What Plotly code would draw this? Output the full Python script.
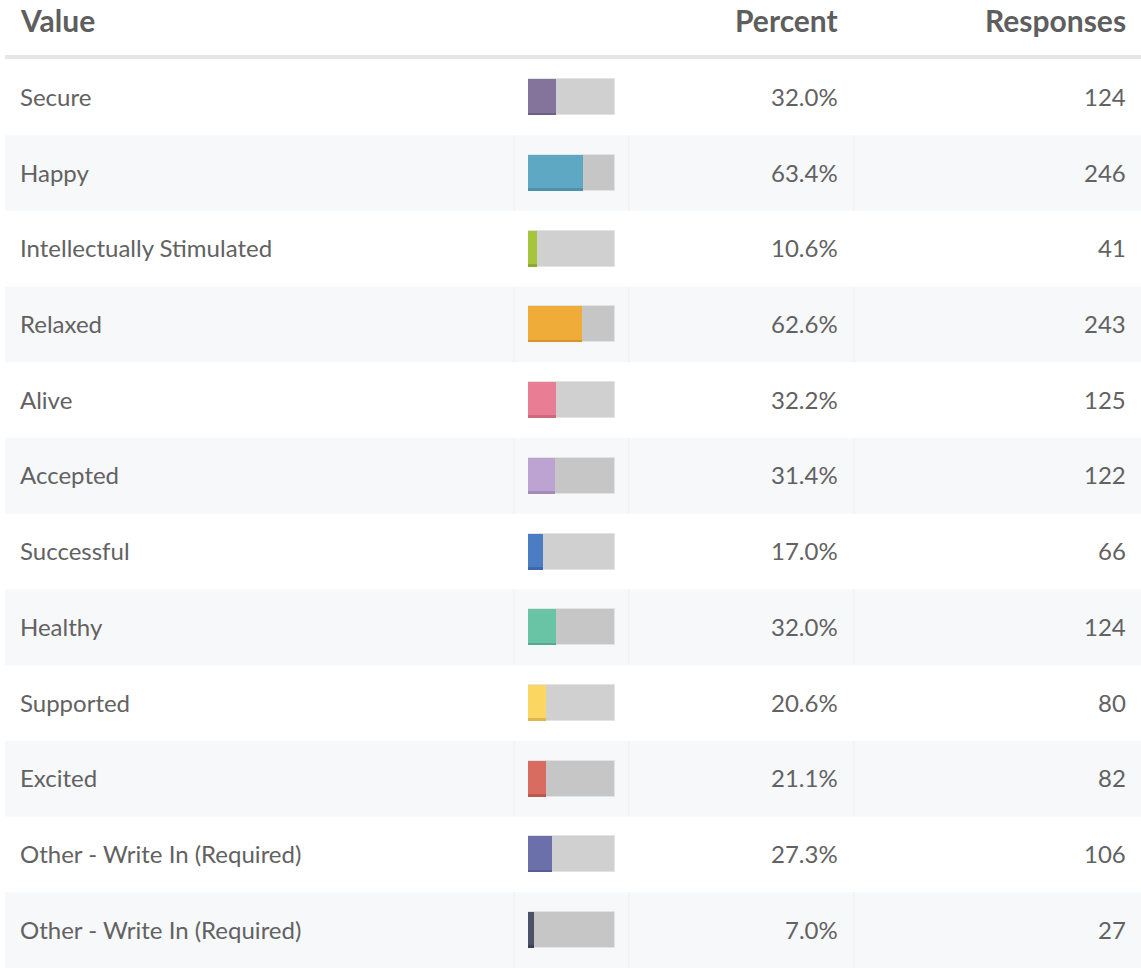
import plotly.graph_objects as go

labels = ["Secure", "Happy", "Intellectually Stimulated", "Relaxed", "Alive", "Accepted",
          "Successful", "Healthy", "Supported", "Excited",
          "Other - Write In (Required)", "Other - Write In (Required)"]
percents = [32.0, 63.4, 10.6, 62.6, 32.2, 31.4, 17.0, 32.0, 20.6, 21.1, 27.3, 7.0]
responses = [124, 246, 41, 243, 125, 122, 66, 124, 80, 82, 106, 27]
colors = ["#84739a", "#5fa8c4", "#a6c43c", "#f0ac38", "#e87d94", "#bca3d2",
          "#4b7dc4", "#68c4a5", "#fbd660", "#d86c60", "#6b70aa", "#4b5268"]
edge_colors = ["#6e5f84", "#4e91ab", "#8fa930", "#d6952a", "#cc6a80", "#a48bba",
               "#3c69ab", "#56ab8f", "#dcb94d", "#bd5a50", "#595d93", "#3a4055"]
headers = ["Value", "Percent", "Responses"]

W, H = 1141, 968
rows = list(range(len(labels)))
y_top = -1.285
y_bot = 11.5
bar_w = 0.475

fig = go.Figure()

# gray background track
track_colors = ["#cfd0cf" if i % 2 == 0 else "#c6c6c6" for i in rows]
fig.add_trace(go.Bar(
    y=rows, x=[100] * len(rows), orientation="h", width=bar_w,
    marker=dict(color=track_colors, line=dict(color="#e2e3e2", width=1)),
    xaxis="x2", yaxis="y", hoverinfo="skip", showlegend=False))
# colored value bars
fig.add_trace(go.Bar(
    y=rows, x=percents, orientation="h", width=bar_w,
    marker=dict(color=colors, line=dict(width=0)),
    xaxis="x2", yaxis="y", hoverinfo="skip", showlegend=False))
# darker bottom edge of value bars
fig.add_trace(go.Bar(
    y=rows, x=percents, orientation="h", width=0.035, offset=bar_w / 2 - 0.035,
    marker=dict(color=edge_colors, line=dict(width=0)),
    xaxis="x2", yaxis="y", hoverinfo="skip", showlegend=False))

shapes = []
for i in rows:
    if i % 2 == 1:
        shapes.append(dict(type="rect", xref="paper", yref="y", x0=5 / W, x1=1,
                           y0=i - 0.5, y1=i + 0.5, fillcolor="#f7f8fa",
                           line=dict(width=0), layer="below"))
        for xv in (514, 629, 854):
            shapes.append(dict(type="line", xref="paper", yref="y", x0=xv / W, x1=xv / W,
                               y0=i - 0.5, y1=i + 0.5, line=dict(color="#eeeff1", width=1),
                               layer="below"))
shapes.append(dict(type="line", xref="paper", yref="y", x0=5 / W, x1=1,
                   y0=-0.532, y1=-0.532, line=dict(color="#e6e6e6", width=4)))

annotations = []
body_font = dict(family="Lato", size=24, color="#626262", weight=400)
head_font = dict(family="Lato", size=30, color="#5e5e5e", weight="bold")
hy = y_top + 20 / 75.71
xl, xp, xr = 18 / W, 840 / W, 1128 / W
annotations.append(dict(text=headers[0], x=xl, xref="paper", y=hy, yref="y",
                        xanchor="left", yanchor="middle", showarrow=False, font=head_font))
annotations.append(dict(text=headers[1], x=xp, xref="paper", y=hy, yref="y",
                        xanchor="right", yanchor="middle", showarrow=False, font=head_font))
annotations.append(dict(text=headers[2], x=xr, xref="paper", y=hy, yref="y",
                        xanchor="right", yanchor="middle", showarrow=False, font=head_font))
for i in rows:
    annotations.append(dict(text=labels[i], x=xl, xref="paper", y=i - 0.012, yref="y",
                            xanchor="left", yanchor="middle", showarrow=False, font=body_font))
    annotations.append(dict(text=f"{percents[i]:.1f}%", x=xp, xref="paper", y=i - 0.012, yref="y",
                            xanchor="right", yanchor="middle", showarrow=False, font=body_font))
    annotations.append(dict(text=str(responses[i]), x=xr, xref="paper", y=i - 0.012, yref="y",
                            xanchor="right", yanchor="middle", showarrow=False, font=body_font))

fig.update_layout(
    width=W, height=H,
    margin=dict(l=0, r=0, t=0, b=0),
    paper_bgcolor="white", plot_bgcolor="rgba(0,0,0,0)",
    barmode="overlay", bargap=0,
    xaxis=dict(visible=False, range=[0, 1], domain=[0, 1]),
    xaxis2=dict(visible=False, range=[0, 100], domain=[528 / W, 615 / W], anchor="y"),
    yaxis=dict(visible=False, range=[y_bot, y_top], domain=[0, 1]),
    shapes=shapes, annotations=annotations,
)

fig.write_html("out.html", config={"displayModeBar": False},
               post_script="document.body.style.margin='0';document.body.style.overflow='hidden';")
